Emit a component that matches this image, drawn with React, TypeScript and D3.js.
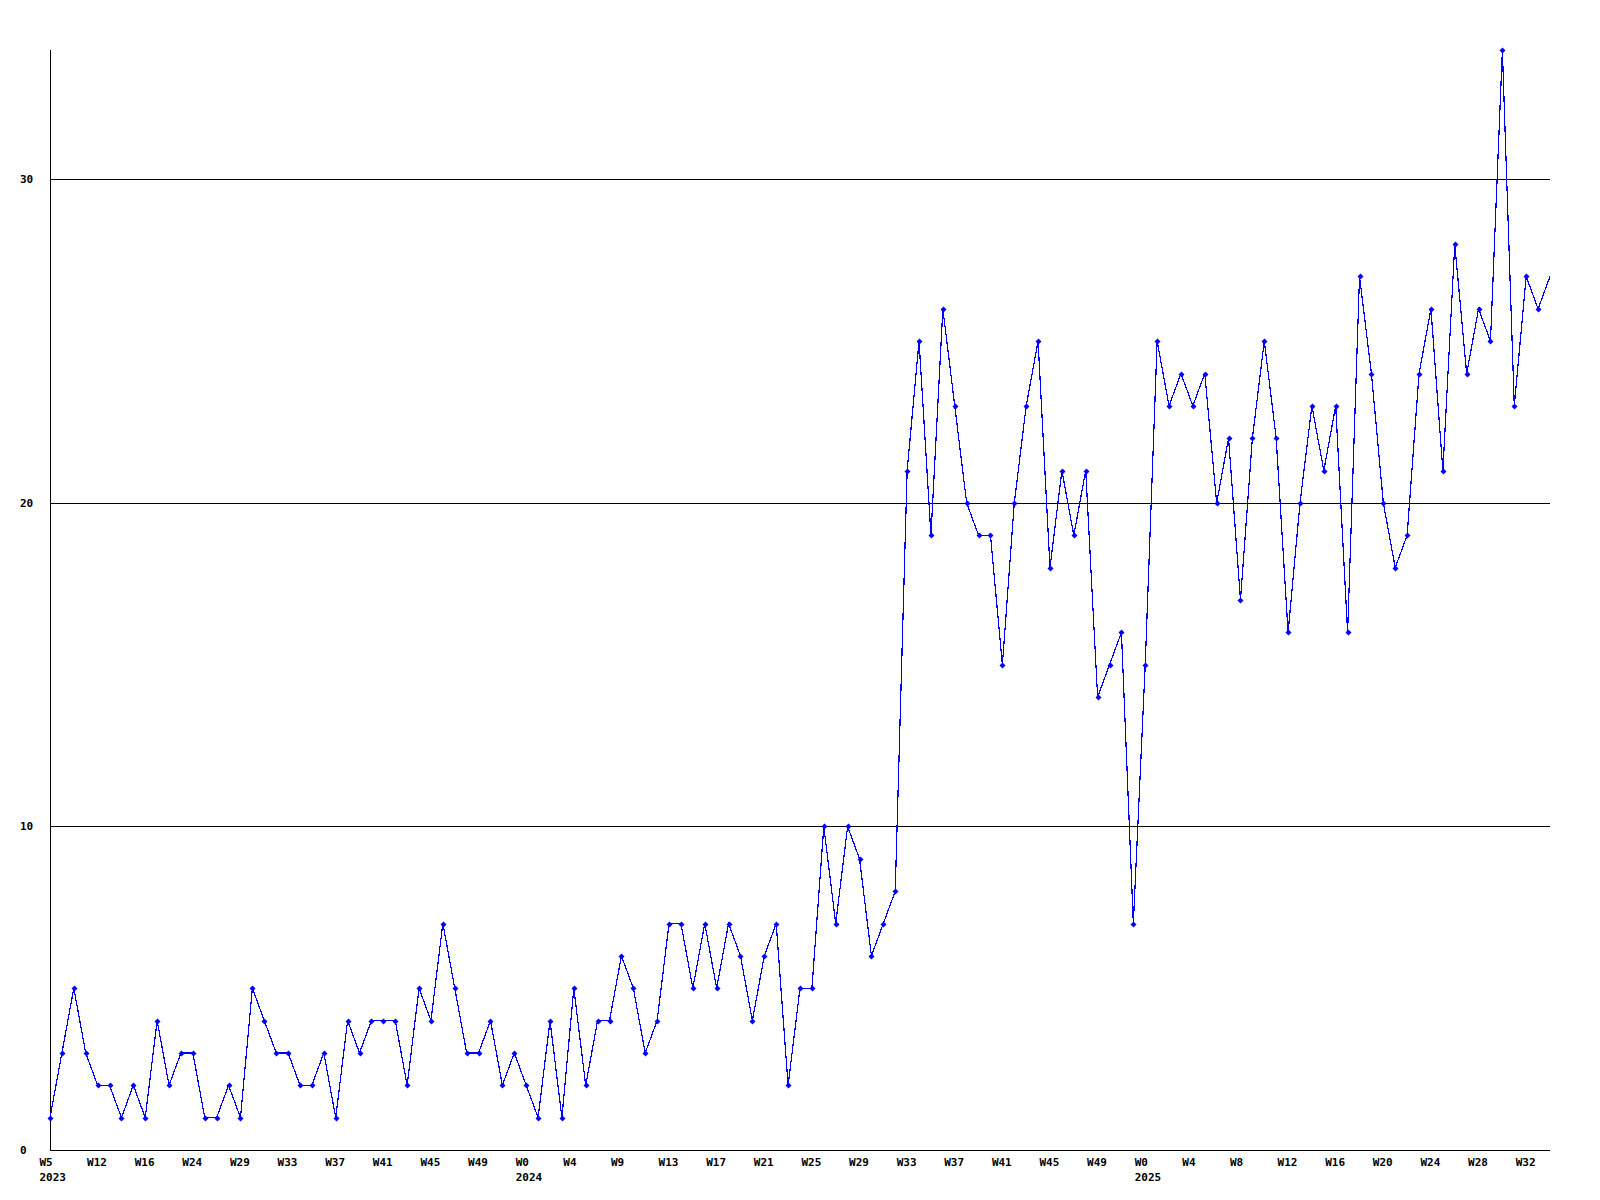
import { useEffect, useRef } from 'react';
import * as d3 from 'd3';

// weekly counts, W5 2023 .. W34 2025
const values2023 = [1, 3, 5, 3, 2, 2, 1, 2, 1, 4, 2, 3, 3, 1, 1, 2, 1, 5, 4, 3, 3, 2, 2, 3, 1, 4, 3, 4, 4, 4, 2, 5, 4, 7, 5, 3, 3, 4, 2, 3];
const values2024 = [2, 1, 4, 1, 5, 2, 4, 4, 6, 5, 3, 4, 7, 7, 5, 7, 5, 7, 6, 4, 6, 7, 2, 5, 5, 10, 7, 10, 9, 6, 7, 8, 21, 25, 19, 26, 23, 20, 19, 19, 15, 20, 23, 25, 18, 21, 19, 21, 14, 15, 16, 7];
const values2025 = [15, 25, 23, 24, 23, 24, 20, 22, 17, 22, 25, 22, 16, 20, 23, 21, 23, 16, 27, 24, 20, 18, 19, 24, 26, 21, 28, 24, 26, 25, 34, 23, 27, 26, 27];

// one label every 4 points
const weekLabels = ['W5', 'W12', 'W16', 'W24', 'W29', 'W33', 'W37', 'W41', 'W45', 'W49', 'W0', 'W4', 'W9', 'W13', 'W17', 'W21', 'W25', 'W29', 'W33', 'W37', 'W41', 'W45', 'W49', 'W0', 'W4', 'W8', 'W12', 'W16', 'W20', 'W24', 'W28', 'W32'];
const yearLabels = [
  { tick: 0, label: '2023' },
  { tick: 10, label: '2024' },
  { tick: 23, label: '2025' },
];
const yTicks = [0, 10, 20, 30];
const yMax = 34;

export default function App() {
  const svgRef = useRef<SVGSVGElement>(null);

  useEffect(() => {
    if (!svgRef.current) return;
    const svg = d3.select(svgRef.current);
    svg.selectAll('*').remove();

    const width = 1600;
    const height = 1200;
    const left = 50;
    const right = 1550;
    const top = 50;
    const bottom = 1150;

    const values = [...values2023, ...values2024, ...values2025];
    const x = d3.scaleLinear().domain([0, values.length - 1]).range([left, right]);
    const y = d3.scaleLinear().domain([0, yMax]).range([bottom, top]);

    svg.attr('width', width).attr('height', height);
    svg.append('rect').attr('width', width).attr('height', height).attr('fill', '#ffffff');

    const font = '"DejaVu Sans Mono", monospace';

    // grid lines
    svg
      .append('g')
      .selectAll('line')
      .data(yTicks.filter((t) => t > 0))
      .join('line')
      .attr('x1', left)
      .attr('x2', right)
      .attr('y1', (d) => Math.round(y(d)) + 0.5)
      .attr('y2', (d) => Math.round(y(d)) + 0.5)
      .attr('stroke', '#000')
      .attr('shape-rendering', 'crispEdges');

    // axes
    svg
      .append('line')
      .attr('x1', left + 0.5)
      .attr('x2', left + 0.5)
      .attr('y1', top)
      .attr('y2', bottom)
      .attr('stroke', '#000')
      .attr('shape-rendering', 'crispEdges');
    svg
      .append('line')
      .attr('x1', left)
      .attr('x2', right)
      .attr('y1', bottom + 0.5)
      .attr('y2', bottom + 0.5)
      .attr('stroke', '#000')
      .attr('shape-rendering', 'crispEdges');

    // y labels
    svg
      .append('g')
      .selectAll('text')
      .data(yTicks)
      .join('text')
      .attr('x', 20)
      .attr('y', (d) => y(d) + 4)
      .attr('font-family', font)
      .attr('font-weight', 'bold')
      .attr('font-size', '11px')
      .attr('fill', '#000')
      .text((d) => d);

    // x labels
    svg
      .append('g')
      .selectAll('text')
      .data(weekLabels)
      .join('text')
      .attr('x', (_, i) => x(i * 4) - 10.5)
      .attr('y', bottom + 16)
      .attr('font-family', font)
      .attr('font-weight', 'bold')
      .attr('font-size', '11px')
      .attr('fill', '#000')
      .text((d) => d);

    svg
      .append('g')
      .selectAll('text')
      .data(yearLabels)
      .join('text')
      .attr('x', (d) => x(d.tick * 4) - 10.5)
      .attr('y', bottom + 31)
      .attr('font-family', font)
      .attr('font-weight', 'bold')
      .attr('font-size', '11px')
      .attr('fill', '#000')
      .text((d) => d.label);

    // series line
    const line = d3
      .line<number>()
      .x((_, i) => x(i))
      .y((d) => y(d));

    svg
      .append('path')
      .datum(values)
      .attr('d', line)
      .attr('fill', 'none')
      .attr('stroke', '#0000ff')
      .attr('stroke-width', 1.2)
      .attr('shape-rendering', 'crispEdges');

    // point markers (last point sits on the edge, no marker)
    svg
      .append('g')
      .selectAll('path')
      .data(values.slice(0, -1))
      .join('path')
      .attr('d', (d, i) => {
        const cx = Math.round(x(i)) + 0.5;
        const cy = Math.round(y(d)) + 0.5;
        const r = 3;
        return `M${cx},${cy - r}L${cx + r},${cy}L${cx},${cy + r}L${cx - r},${cy}Z`;
      })
      .attr('fill', '#0000ff');
  }, []);

  return (
    <div style={{ position: 'absolute', left: 0, top: 0, background: '#fff' }}>
      <svg ref={svgRef} style={{ display: 'block' }} />
    </div>
  );
}
